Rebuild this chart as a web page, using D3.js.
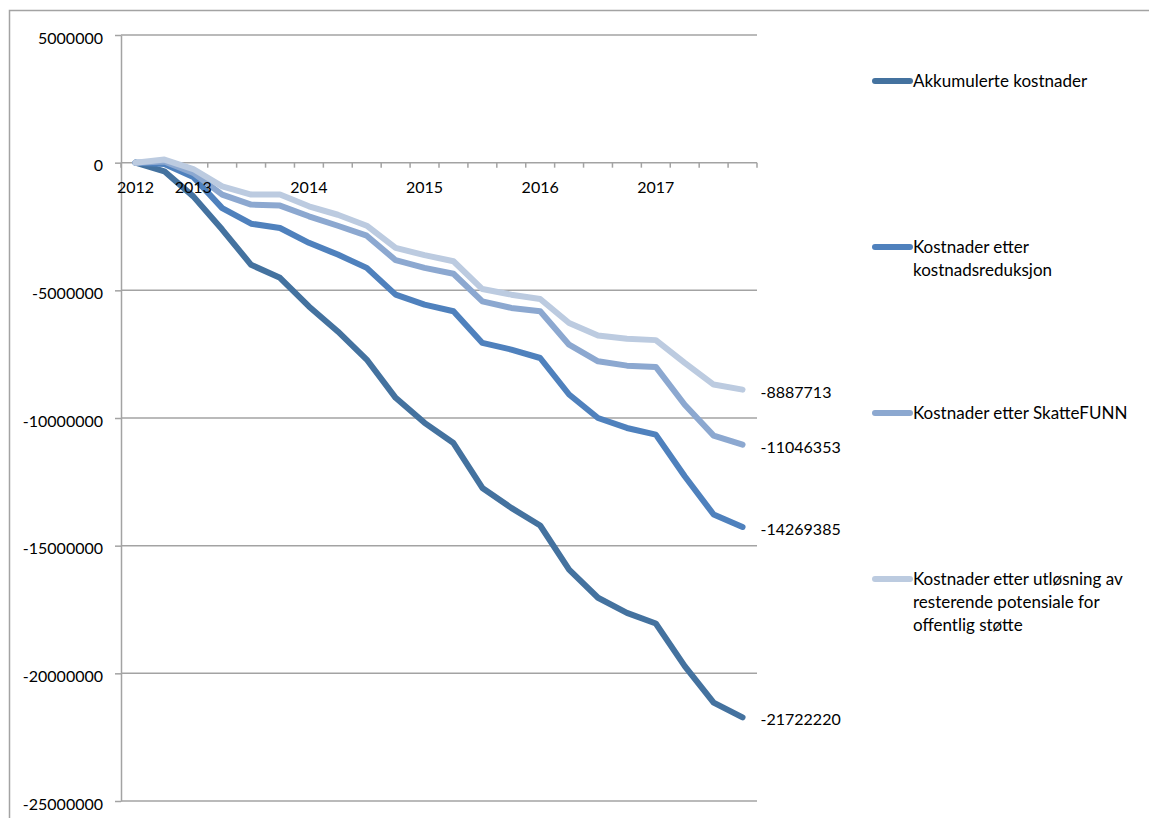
<!DOCTYPE html>
<html>
<head>
<meta charset="utf-8">
<script src="https://cdn.jsdelivr.net/npm/d3@7"></script>
<style>
  body { margin: 0; background: #fff; }
  svg { display: block; font-family: Lato, 'Open Sans', sans-serif; }
</style>
</head>
<body>
<div id="chart"></div>
<script>
// category labels (quarters, only some carry a year)
const periods = ['2012', '', '2013', '', '', '', '2014', '', '', '', '2015', '', '', '', '2016', '', '', '', '2017', '', '', ''];

const akkumulerte = [0, -340000, -1320000, -2620000, -4000000, -4510000, -5630000, -6610000, -7710000, -9210000, -10190000,
  -10980000, -12740000, -13520000, -14210000, -15940000, -17040000, -17630000, -18050000, -19720000, -21150000, -21722220];
const etterReduksjon = [0, -50000, -560000, -1780000, -2390000, -2560000, -3140000, -3600000, -4120000, -5170000, -5560000,
  -5820000, -7060000, -7320000, -7650000, -9080000, -10000000, -10390000, -10650000, -12280000, -13780000, -14269385];
const etterSkatteFunn = [0, 50000, -400000, -1250000, -1640000, -1680000, -2100000, -2470000, -2860000, -3820000, -4120000,
  -4350000, -5430000, -5690000, -5820000, -7130000, -7780000, -7950000, -8000000, -9480000, -10690000, -11046353];
const etterUtlosning = [0, 120000, -250000, -930000, -1250000, -1250000, -1710000, -2040000, -2470000, -3340000, -3620000,
  -3860000, -4950000, -5170000, -5340000, -6280000, -6770000, -6900000, -6950000, -7840000, -8690000, -8887713];

const seriesNames = [
  'Akkumulerte kostnader',
  'Kostnader etter kostnadsreduksjon',
  'Kostnader etter SkatteFUNN',
  'Kostnader etter utløsning av resterende potensiale for offentlig støtte',
];
const yTicks = [5000000, 0, -5000000, -10000000, -15000000, -20000000, -25000000];

const series = [akkumulerte, etterReduksjon, etterSkatteFunn, etterUtlosning].map((values, i) => ({
  name: seriesNames[i],
  values,
}));

const size = { width: 1149, height: 818 };
const plot = { left: 121, right: 757, top: 35, bottom: 801 };
const colors = ['#44729f', '#4f81bd', '#8ca8d0', '#bccbe0'];
const gridColor = '#a3a3a3';

const svg = d3.select('#chart').append('svg').attr('width', size.width).attr('height', size.height);

// outer chart frame
svg.append('rect')
  .attr('x', 9.5).attr('y', 10.5)
  .attr('width', size.width + 20).attr('height', size.height + 20)
  .attr('fill', 'none').attr('stroke', gridColor).attr('stroke-width', 1.5);

const x = d3.scaleBand().domain(d3.range(periods.length)).range([plot.left, plot.right]);
const cx = (i) => x(i) + x.bandwidth() / 2;
const y = d3.scaleLinear().domain([-25000000, 5000000]).range([plot.bottom, plot.top]);

// horizontal grid lines
svg.append('g')
  .selectAll('line')
  .data(yTicks)
  .join('line')
  .attr('x1', plot.left)
  .attr('x2', plot.right)
  .attr('y1', (d) => y(d))
  .attr('y2', (d) => y(d))
  .attr('stroke', gridColor)
  .attr('stroke-width', 1.5);

// y axis
const yAxis = svg.append('g')
  .attr('transform', `translate(${plot.left},0)`)
  .call(d3.axisLeft(y).tickValues(yTicks).tickSize(6).tickSizeOuter(0).tickPadding(12).tickFormat((d) => String(d)));
yAxis.select('.domain').attr('stroke', gridColor).attr('stroke-width', 1.5);
yAxis.selectAll('.tick line').attr('stroke', gridColor).attr('stroke-width', 1.5);
yAxis.selectAll('.tick text').attr('dy', '0.5em').attr('font-size', 16).attr('fill', '#000')
  .style('font-family', 'Lato, sans-serif');

// x axis ticks at band edges on the zero line
const edges = x.domain().map((i) => x(i)).concat([plot.right]);
svg.append('g')
  .selectAll('line')
  .data(edges)
  .join('line')
  .attr('x1', (d) => d)
  .attr('x2', (d) => d)
  .attr('y1', y(0))
  .attr('y2', y(0) + 5)
  .attr('stroke', gridColor)
  .attr('stroke-width', 1.5);

// lines
const line = d3.line()
  .x((d, i) => cx(i))
  .y((d) => y(d));

svg.append('g')
  .selectAll('path')
  .data(series)
  .join('path')
  .attr('d', (d) => line(d.values))
  .attr('fill', 'none')
  .attr('stroke', (d, i) => colors[i])
  .attr('stroke-width', 6)
  .attr('stroke-linecap', 'round')
  .attr('stroke-linejoin', 'round');

// year labels sit on top of the lines
svg.append('g')
  .selectAll('text')
  .data(periods)
  .join('text')
  .attr('x', (d, i) => cx(i))
  .attr('y', y(0) + 30)
  .attr('text-anchor', 'middle')
  .attr('font-size', 16)
  .text((d) => d);

// end value labels
svg.append('g')
  .selectAll('text')
  .data(series)
  .join('text')
  .attr('x', cx(periods.length - 1) + 18)
  .attr('y', (d) => y(d.values[d.values.length - 1]) + 8)
  .attr('font-size', 16)
  .text((d) => String(d.values[d.values.length - 1]));

// legend
const legend = svg.append('g').attr('transform', 'translate(872,81)');
const maxWidth = 228;

series.forEach((s, i) => {
  const item = legend.append('g').attr('transform', `translate(0,${i * 166})`);
  item.append('line')
    .attr('x1', 3).attr('x2', 38)
    .attr('stroke', colors[i])
    .attr('stroke-width', 6)
    .attr('stroke-linecap', 'round');

  const text = item.append('text').attr('x', 41).attr('y', 6).attr('font-size', 17);
  const words = s.name.split(' ');
  let current = [];
  let tspan = text.append('tspan').attr('x', 41).attr('dy', 0);
  words.forEach((w) => {
    current.push(w);
    tspan.text(current.join(' '));
    if (tspan.node().getComputedTextLength() > maxWidth && current.length > 1) {
      current.pop();
      tspan.text(current.join(' '));
      current = [w];
      tspan = text.append('tspan').attr('x', 41).attr('dy', 23).text(w);
    }
  });
});
</script>
</body>
</html>
